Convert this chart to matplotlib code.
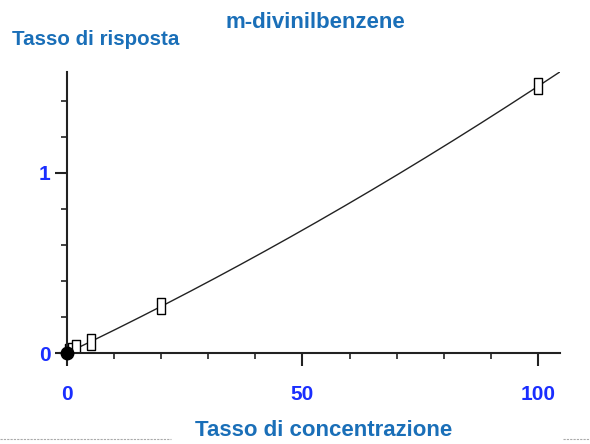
import numpy as np
import matplotlib
matplotlib.use('Agg')
import matplotlib.pyplot as plt

# punti di calibrazione
conc = [0.5, 1, 2, 5, 20, 100]
risposta = [0.005, 0.01, 0.025, 0.06, 0.26, 1.48]
origine_x = [0]
origine_y = [0]

x_ticks = [0, 50, 100]
y_ticks = [0, 1]

plt.rcParams['font.family'] = ['Liberation Sans', 'DejaVu Sans']

fig = plt.figure(figsize=(5.9, 4.44), dpi=100)
# asse x da -1.5 a 104.7, lo zero cade a ~67 px
ax = fig.add_axes([60 / 590, 1 - 353 / 444, 500 / 590, 281 / 444])

# curva di calibrazione (quadratica, passante per l'origine)
cx = np.array(origine_x + conc, dtype=float)
cy = np.array(origine_y + risposta, dtype=float)
A = np.vstack([cx, cx ** 2]).T
coef, *_ = np.linalg.lstsq(A, cy, rcond=None)
xx = np.linspace(0, 104.7, 200)
ax.plot(xx, coef[0] * xx + coef[1] * xx ** 2, color='#222222', lw=1.0)

rett = [(-0.5, -1), (0.5, -1), (0.5, 1), (-0.5, 1), (-0.5, -1)]
ax.plot(conc, risposta, linestyle='none', marker=rett, markersize=11.5,
        markerfacecolor='white', markeredgecolor='black', markeredgewidth=1.0)
ax.plot(origine_x, origine_y, linestyle='none', marker='o', markersize=9,
        color='black', clip_on=False, zorder=5)

ax.set_xlim(-1.5, 104.7)
ax.set_ylim(0, 1.56)

ax.spines['top'].set_visible(False)
ax.spines['right'].set_visible(False)
ax.spines['left'].set_position(('data', 0))
for s in ('left', 'bottom'):
    ax.spines[s].set_linewidth(1.5)
    ax.spines[s].set_color('#222222')

ax.set_xticks(x_ticks)
ax.set_yticks(y_ticks)
ax.set_xticks(np.arange(10, 101, 10), minor=True)
ax.set_yticks(np.arange(0.2, 1.5, 0.2), minor=True)
ax.tick_params(axis='both', which='major', length=9, width=1.5,
               labelsize=15, labelcolor='#1a2eff', color='#222222')
ax.tick_params(axis='both', which='minor', length=4.5, width=1.2,
               color='#222222')
ax.tick_params(axis='x', which='major', pad=14)
ax.tick_params(axis='y', which='major', pad=3)
for lab in ax.get_xticklabels() + ax.get_yticklabels():
    lab.set_fontweight('bold')

blu = '#1a6fb8'
fig.text(0.02, 0.91, 'Tasso di risposta', color=blu, fontsize=14.8,
         fontweight='bold', ha='left', va='center')
fig.text(0.534, 0.95, 'm-divinilbenzene', color=blu, fontsize=16,
         fontweight='bold', ha='center', va='center')
fig.text(0.549, 0.03, 'Tasso di concentrazione', color=blu, fontsize=16,
         fontweight='bold', ha='center', va='center')

# linee tratteggiate in fondo alla pagina
fig.add_artist(plt.Line2D([0, 0.29], [0.012, 0.012], color='#aaaaaa',
                          lw=0.8, linestyle=(0, (2, 1))))
fig.add_artist(plt.Line2D([0.955, 1], [0.012, 0.012], color='#aaaaaa',
                          lw=0.8, linestyle=(0, (2, 1))))

fig.savefig('out.png', dpi=100)
